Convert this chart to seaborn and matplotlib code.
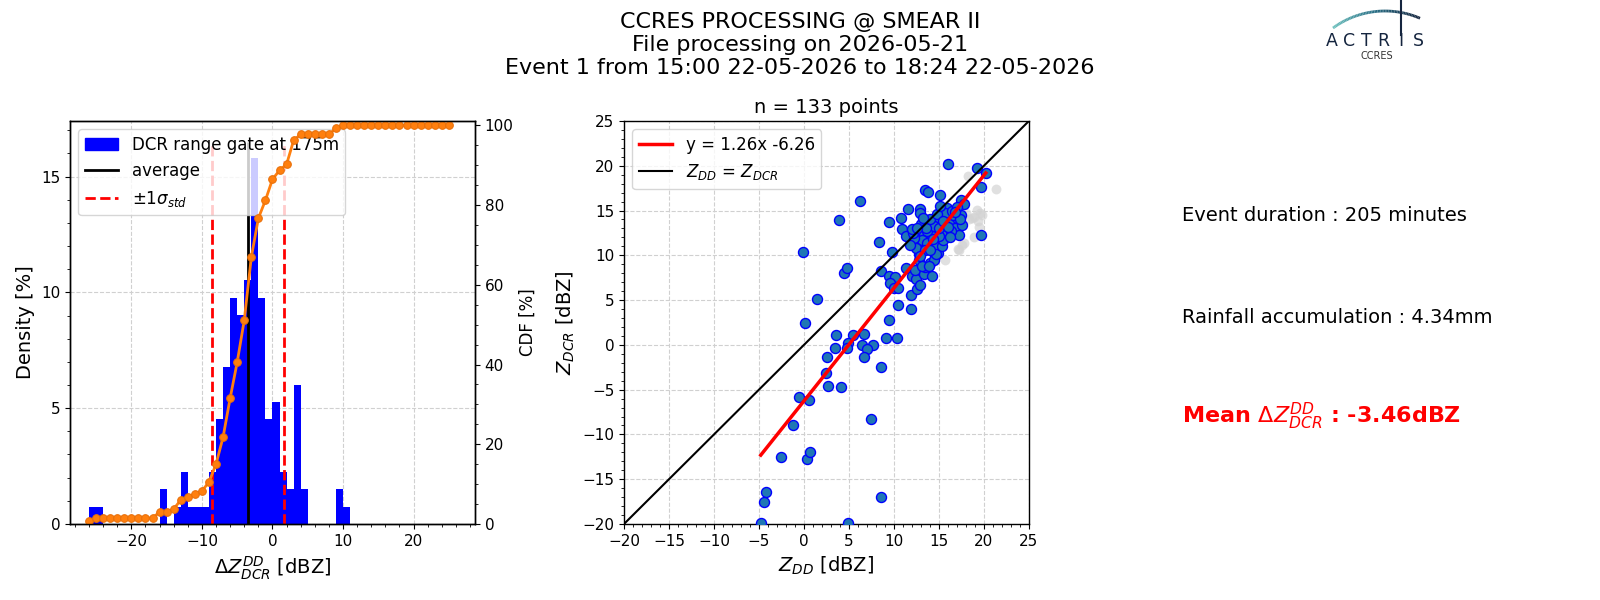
import matplotlib
matplotlib.use("Agg")
import matplotlib.pyplot as plt
import numpy as np
import pandas as pd
import seaborn as sns
from matplotlib.collections import LineCollection
from matplotlib.colors import LinearSegmentedColormap
from matplotlib.lines import Line2D
from matplotlib.patches import Patch
from matplotlib.ticker import AutoMinorLocator, MultipleLocator

# --- histogram of dZ (DCR - DD), 1 dBZ bins from -26 to 26 ---
bin_edges = list(range(-26, 27))
hist_counts = [1, 1, 0, 0, 0, 0, 0, 0, 0, 0,
               2, 0, 1, 3, 1, 1, 1, 3, 6, 9,
               13, 12, 14, 21, 13, 6, 7, 3, 2, 8,
               2, 0, 0, 0, 0, 2, 1, 0, 0, 0,
               0, 0, 0, 0, 0, 0, 0, 0, 0, 0,
               0, 0]
mean_dz = -3.46
std_dz = 5.1

# --- scatter Z_DD vs Z_DCR ---
dd_z = [16.0, 19.2, 20.2, 19.7, 19.7, 6.2, 3.9, 13.5, 13.8, 15.1,
        11.6, 12.9, 12.9, 9.5, 10.8, 10.9, 11.3, 8.3, 9.8, -0.1,
        4.4, 4.8, 8.6, 9.4, 10.1, 9.6, 10.0, 10.5, 10.4, 11.3,
        11.9, 11.9, 12.0, 12.4, 12.55, 12.9, 12.3, 13.3, 14.2, 13.5,
        14.0, 14.6, 14.9, 14.4, 12.8, 12.5, 13.3, 14.6, 14.7, 15.3,
        14.6, 15.0, 15.4, 15.9, 16.1, 16.5, 16.8, 17.0, 17.4, 17.8,
        17.4, 17.6, 17.2, 15.7, 15.4, 14.2, 13.7, 13.1, 12.2, 15.0,
        16.3, 16.6, 14.4, 15.7, 13.7, 12.4, 12.1, 15.0, 12.0, 12.8,
        13.1, 13.9, 13.0, 13.6, 14.0, 14.8, 15.5, 16.0, 16.4, 17.0,
        17.3, 16.2, 14.3, 13.4, 12.9, 14.0, 15.1, 12.6, 16.8, 13.2,
        11.8, 1.5, 0.1, 3.6, 5.5, 6.7, 4.9, 6.4, 7.7, 7.0,
        4.8, 3.5, 6.7, 2.6, 9.1, 10.3, 9.5, 8.6, 2.4, 2.7,
        4.1, -0.6, 0.6, 7.4, -1.2, -2.5, 0.3, 0.7, -4.2, -4.4,
        8.6, -4.8, 4.9]
dcr_z = [20.2, 19.7, 19.2, 17.6, 12.3, 16.1, 13.9, 17.3, 17.1, 16.7,
         15.2, 15.2, 14.7, 13.7, 14.2, 12.9, 12.1, 11.5, 10.4, 10.4,
         8.0, 8.6, 8.2, 7.65, 7.6, 6.9, 6.35, 6.35, 4.4, 8.6,
         5.6, 4.0, 7.65, 7.3, 6.24, 6.7, 8.4, 7.9, 7.65, 8.7,
         9.1, 9.9, 10.3, 9.5, 10.1, 11.0, 12.3, 11.0, 10.1, 11.0,
         13.4, 14.2, 12.7, 15.3, 14.5, 13.6, 13.0, 14.2, 16.2, 15.7,
         14.5, 13.4, 12.3, 12.3, 11.7, 12.1, 12.7, 11.7, 11.9, 12.1,
         12.7, 14.5, 13.3, 14.7, 11.4, 10.8, 12.5, 13.0, 12.9, 9.5,
         8.8, 8.8, 13.5, 13.0, 14.0, 14.6, 13.8, 13.2, 15.0, 15.4,
         14.0, 12.0, 11.8, 10.6, 9.9, 10.6, 15.5, 13.0, 14.8, 14.2,
         11.2, 5.1, 2.4, 1.1, 1.1, 1.2, 0.2, 0.0, 0.0, -0.5,
         -0.4, -0.3, -1.4, -1.3, 0.8, 0.8, 2.8, -2.5, -3.1, -4.6,
         -4.7, -5.8, -6.2, -8.3, -9.0, -12.5, -12.7, -12.0, -16.4, -17.6,
         -17.0, -19.9, -19.9]
# points left out of the fit (grey)
excl_dd = [18.2, 21.3, 19.2, 19.6, 18.7, 19.3, 18.9, 17.6, 17.1, 15.7,
           19.4, 18.3, 19.8, 18.0, 18.9, 17.8, 17.2]
excl_dcr = [18.8, 17.4, 15.1, 14.7, 14.2, 13.8, 12.0, 11.2, 10.7, 9.5,
            13.2, 14.0, 14.5, 14.7, 14.3, 11.4, 10.6]
fit_slope = 1.26
fit_intercept = -6.26

event_duration = 205
rain_accum = 4.34

plt.rcParams.update({
    "font.family": ["DejaVu Sans"],
    "xtick.labelsize": 11,
    "ytick.labelsize": 11,
    "axes.linewidth": 1.0,
})

fig = plt.figure(figsize=(16, 6), dpi=100, facecolor="white")
fig.suptitle("CCRES PROCESSING @ SMEAR II\nFile processing on 2026-05-21\n"
             "Event 1 from 15:00 22-05-2026 to 18:24 22-05-2026",
             fontsize=16, x=0.5, y=0.98)

ax1 = fig.add_axes([0.04375, 0.1267, 0.2531, 0.6717])
ax2 = fig.add_axes([0.39, 0.1267, 0.2531, 0.6717])

# ---------------- histogram + CDF ----------------
counts = np.array(hist_counts, dtype=float)
hist_df = pd.DataFrame({
    "dz": np.array(bin_edges[:-1]) + 0.5,
    "density": counts / counts.sum() * 100,
    "left": bin_edges[:-1],
    "cdf": np.cumsum(counts) / counts.sum() * 100,
})
ax1.set_axisbelow(True)
sns.histplot(data=hist_df, x="dz", weights="density", bins=bin_edges,
             color="blue", alpha=1, edgecolor="none", linewidth=0, ax=ax1)
ax1.vlines(mean_dz, 0, 16.5, color="black", lw=2)
ax1.vlines([mean_dz - std_dz, mean_dz + std_dz], 0, 16.5, color="red",
           lw=2, linestyles="--")
ax1.set_xlim(-28.7, 28.7)
ax1.set_ylim(0, 17.4)
ax1.yaxis.set_major_locator(MultipleLocator(5))
ax1.set_ylabel("Density [%]", fontsize=14)
ax1.set_xlabel(r"$\Delta Z_{DCR}^{DD}$ [dBZ]", fontsize=14)
ax1.grid(True, linestyle="--", color="#d0d0d0", lw=0.8)
ax1.minorticks_on()
ax1.yaxis.set_minor_locator(AutoMinorLocator(5))
handles = [Patch(color="blue"), Line2D([], [], color="black", lw=2),
           Line2D([], [], color="red", lw=2, ls="--")]
ax1.legend(handles, ["DCR range gate at 175m", "average", r"$\pm1\sigma_{std}$"],
           loc="upper left", fontsize=12)

axc = ax1.twinx()
sns.lineplot(data=hist_df, x="left", y="cdf", color="#ff7f0e", lw=2, marker="o",
             markersize=5.5, markeredgecolor="#e8700a", ax=axc)
axc.set_ylim(0, 101.1)
axc.set_ylabel("CDF [%]", fontsize=12)
axc.set_xlabel("")
axc.yaxis.set_minor_locator(AutoMinorLocator())

# ---------------- scatter ----------------
ax2.set_axisbelow(True)
sns.scatterplot(x=excl_dd, y=excl_dcr, color="#d3d3d3", alpha=0.7, s=50,
                linewidth=0, ax=ax2, zorder=2)
sns.scatterplot(x=dd_z, y=dcr_z, color="#1f77b4", edgecolor="blue", s=52,
                linewidth=1, ax=ax2, zorder=3)
fit_x = np.array([min(dd_z), max(dd_z)])
ax2.plot(fit_x, fit_slope * fit_x + fit_intercept, color="red", lw=2.5, zorder=4,
         label=f"y = {fit_slope:.2f}x {fit_intercept:.2f}")
ax2.plot([-20, 25], [-20, 25], color="black", lw=1.5, zorder=4,
         label=r"$Z_{DD}$ = $Z_{DCR}$")
ax2.set_xlim(-20, 25)
ax2.set_ylim(-20, 25)
ax2.set_xticks(range(-20, 26, 5))
ax2.set_yticks(range(-20, 26, 5))
ax2.minorticks_on()
ax2.grid(True, linestyle="--", color="#d0d0d0", lw=0.8)
ax2.set_xlabel(r"$Z_{DD}$ [dBZ]", fontsize=14)
ax2.set_ylabel(r"$Z_{DCR}$ [dBZ]", fontsize=14)
ax2.set_title(f"n = {len(dd_z)} points", fontsize=14)
ax2.legend(loc="upper left", fontsize=12)

# ---------------- side text ----------------
fig.text(0.739, 0.632, f"Event duration : {event_duration} minutes", fontsize=14,
         va="baseline")
fig.text(0.739, 0.462, f"Rainfall accumulation : {rain_accum:.2f}mm", fontsize=14,
         va="baseline")
fig.text(0.739, 0.2955, r"Mean $\Delta Z_{DCR}^{DD}$ : " + f"{mean_dz:.2f}dBZ",
         fontsize=16, color="red", fontweight="bold", va="baseline")

# ---------------- logo ----------------
lax = fig.add_axes([1320 / 1600, 1 - 62 / 600, 110 / 1600, 62 / 600])
lax.set_xlim(1320, 1430)
lax.set_ylim(62, 0)
lax.axis("off")
theta = np.linspace(np.arccos(-52 / 88), np.arccos(35 / 88), 60)
arc_x = 1385 + 88 * np.cos(theta)
arc_y = 99 - 88 * np.sin(theta)
pts = np.column_stack([arc_x, arc_y]).reshape(-1, 1, 2)
segs = np.concatenate([pts[:-1], pts[1:]], axis=1)
cmap = LinearSegmentedColormap.from_list("actris", ["#6cc0bd", "#2a6f86", "#15253f"])
lc = LineCollection(segs, cmap=cmap, linewidth=2)
lc.set_array(np.linspace(0, 1, len(segs)))
lax.add_collection(lc)
lax.plot([1401, 1401], [0, 35], color="#15253f", lw=1.5)
for letter, lx in zip("ACTRIS", [1332, 1349, 1366, 1383, 1401, 1418]):
    lax.text(lx, 46, letter, fontsize=12.5, color="#15253f", ha="center",
             va="baseline")
lax.text(1377, 59, "CCRES", fontsize=7, color="#333333", ha="center", va="baseline")

fig.savefig("out.png", dpi=100, facecolor="white")
